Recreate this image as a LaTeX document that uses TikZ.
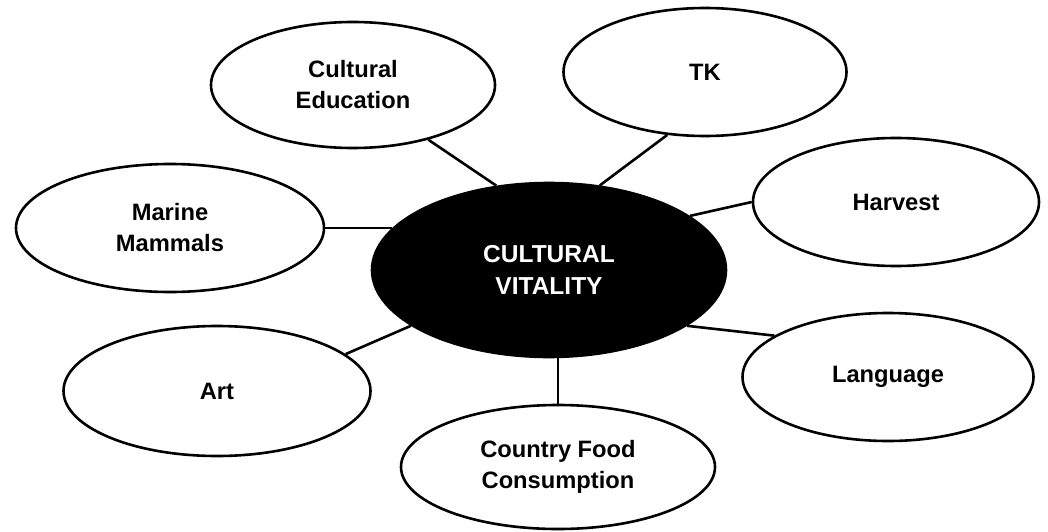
\documentclass[tikz,border=0pt]{standalone}
\usepackage{fontspec}
\setmainfont{Liberation Sans}
\usetikzlibrary{shapes.geometric}
\begin{document}
\begin{tikzpicture}[x=1pt,y=-1pt,
  bub/.style={ellipse,draw=black,fill=white,line width=2.6pt,inner sep=0pt,align=center,
    font=\fontsize{23.7}{31}\selectfont\bfseries},
  hub/.style={ellipse,draw=black,fill=black,text=white,line width=2.6pt,inner sep=0pt,align=center,
    font=\fontsize{24.5}{32}\selectfont\bfseries},
  conn/.style={line width=2.6pt}]
\useasboundingbox[fill=white] (0,0) rectangle (1048,532);
\node[hub,minimum width=354,minimum height=174] (cv) at (549,270) {CULTURAL\\VITALITY};
\node[bub,minimum width=284,minimum height=126] (ce) at (353,85) {Cultural\\Education};
\node[bub,minimum width=283,minimum height=128] (tk) at (705,72) {TK};
\node[bub,minimum width=286,minimum height=128] (hv) at (896,202) {Harvest};
\node[bub,minimum width=308,minimum height=128] (mm) at (170,228) {Marine\\Mammals};
\node[bub,minimum width=307,minimum height=130] (art) at (217,391) {Art};
\node[bub,minimum width=291,minimum height=128] (lg) at (888,377) {Language};
\node[bub,minimum width=314,minimum height=124] (cf) at (558,467) {Country Food\\Consumption};
\draw[conn] (ce.-36) -- (cv.122);
\draw[conn] (tk.239) -- (cv.59);
\draw[conn] (hv.180) -- (cv.21);
\draw[conn] (mm.east) -- (mm.east -| cv.165);
\draw[conn] (art.16) -- (cv.202);
\draw[conn] (lg.160) -- (cv.-22);
\draw[conn] (cf.north) -- (cf.north |- cv.south);
\end{tikzpicture}
\end{document}
